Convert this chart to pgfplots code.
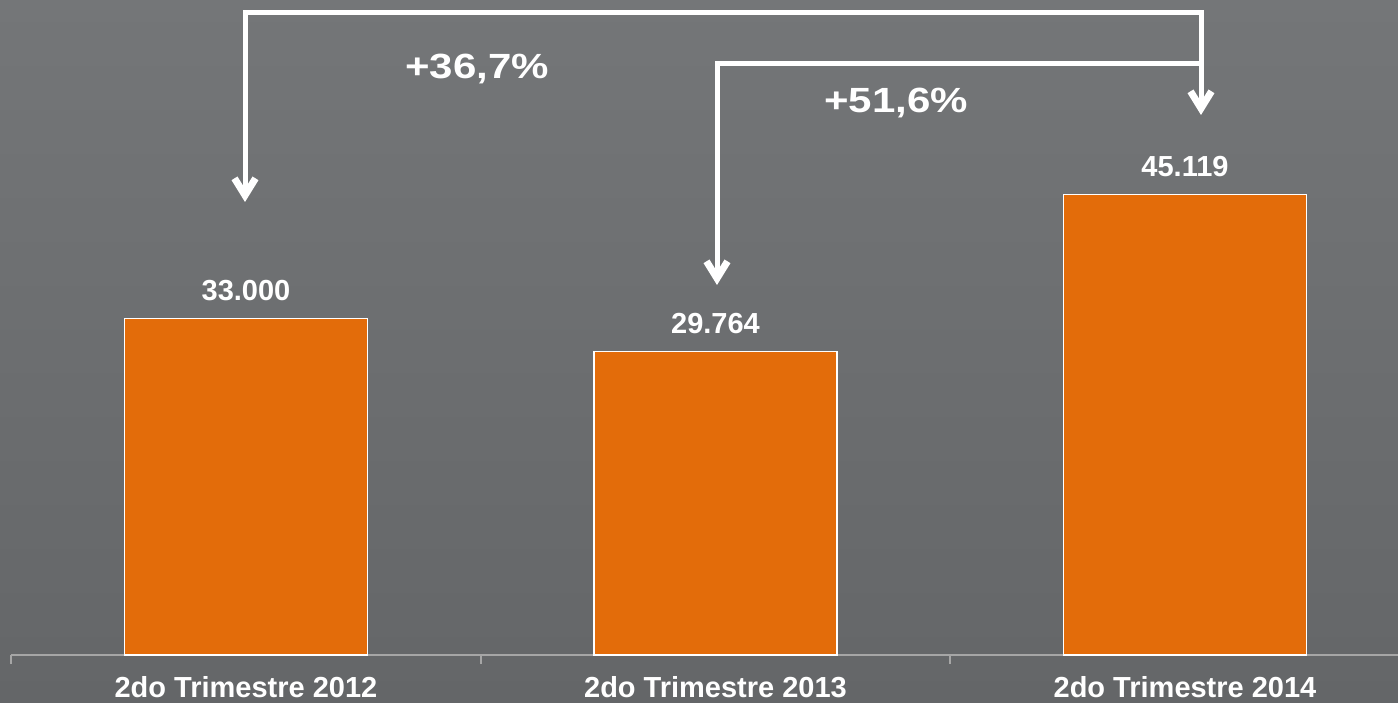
\documentclass[border=0pt]{standalone}
\usepackage{fontspec}
\setmainfont{Liberation Sans}
\usepackage{pgfplots}
\pgfplotsset{compat=1.18}
\usetikzlibrary{arrows.meta}
\definecolor{barorange}{HTML}{E36C0A}
\definecolor{bgtop}{HTML}{747678}
\definecolor{bgbot}{HTML}{646668}
\definecolor{axgrey}{HTML}{A6A6A6}
\begin{document}
\begin{tikzpicture}[x=1pt,y=1pt,
  tipa/.tip={Straight Barb[length=17pt,width=21pt,line width=7pt]}]
\useasboundingbox (0,0) rectangle (1398,702);
\clip (0,0) rectangle (1398,702);
\shade[top color=bgtop,bottom color=bgbot] (0,0) rectangle (1398,702);
\begin{axis}[
  at={(11.25pt,47pt)}, anchor=south west,
  scale only axis, width=1408.5pt, height=655pt,
  xmin=-0.5, xmax=2.5, ymin=0, ymax=64200,
  axis x line=bottom, axis y line=none,
  x axis line style={-, draw=axgrey, line width=1.5pt},
  ytick=\empty,
  xtick={-0.5,0.5,1.5,2.5}, xticklabels={},
  tick align=outside, major tick length=9pt,
  x tick style={draw=axgrey, line width=1.8pt},
  extra x ticks={0,1,2},
  extra x tick labels={2do Trimestre 2012,2do Trimestre 2013,2do Trimestre 2014},
  extra x tick style={major tick length=0pt},
  xticklabel style={font=\fontsize{29}{29}\selectfont\bfseries, text=white, yshift=-18pt},
  ybar, bar width=243pt,
  clip=false,
]
\addplot[fill=barorange, draw=white, line width=1.5pt,
  nodes near coords={\pgfmathprintnumber[fixed,precision=0,use comma,assume math mode=true]{\pgfplotspointmeta}},
  nodes near coords style={font=\fontsize{29}{29}\selectfont\bfseries, text=white, anchor=base, yshift=18pt}]
  coordinates {(0,33000) (1,29764) (2,45119)};
\end{axis}
\draw[white, line width=5pt, line join=miter, tipa-tipa]
  (245,500) -- (245,689) -- (1201,689) -- (1201,587);
\draw[white, line width=5pt, line join=miter, tipa-]
  (717,417) -- (717,638.5) -- (1203.5,638.5);
\node[anchor=base, text=white, inner sep=0pt] at (477,623)
  {\scalebox{1.2}[1]{\fontsize{35}{35}\selectfont\bfseries +36,7\%}};
\node[anchor=base, text=white, inner sep=0pt] at (896,589)
  {\scalebox{1.2}[1]{\fontsize{35}{35}\selectfont\bfseries +51,6\%}};
\end{tikzpicture}
\end{document}
